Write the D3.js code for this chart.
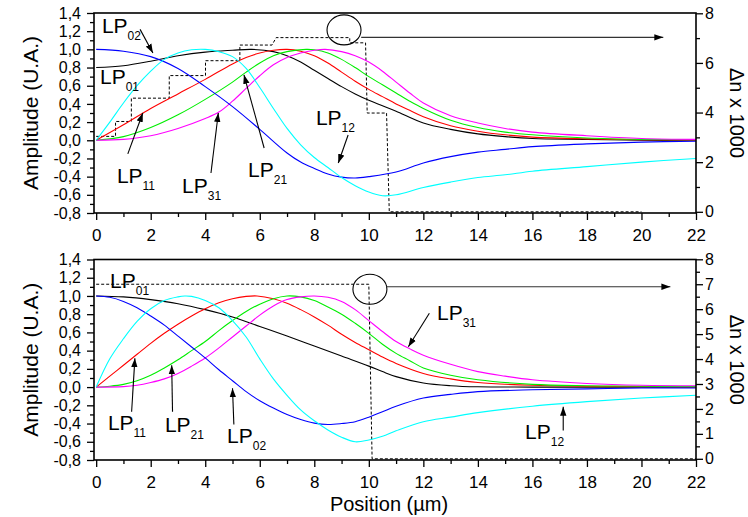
<!DOCTYPE html>
<html><head><meta charset="utf-8">
<script src="https://cdn.jsdelivr.net/npm/d3@7"></script>
<style>body{margin:0;background:#fff}svg{display:block}text{font-family:"Liberation Sans",Arial,Helvetica,sans-serif;fill:#000}</style>
</head><body><svg id="c" width="748" height="517"></svg>
<script>
// ---------- tick values ----------
const xTicks = [0,2,4,6,8,10,12,14,16,18,20,22];
const xMinor = [1,3,5,7,9,11,13,15,17,19,21];
const ampTicks = [-0.8,-0.6,-0.4,-0.2,0,0.2,0.4,0.6,0.8,1.0,1.2,1.4];
const ampMinor = [-0.7,-0.5,-0.3,-0.1,0.1,0.3,0.5,0.7,0.9,1.1,1.3];
const dnTicksTop = [0,2,4,6,8];
const dnMinorTop = [1,3,5,7];
const dnTicksBottom = [0,1,2,3,4,5,6,7,8];
const dnMinorBottom = [0.5,1.5,2.5,3.5,4.5,5.5,6.5,7.5];

// ---------- top panel data ----------
const top_LP01 = [[0,0.80],[1,0.82],[2,0.87],[3,0.93],[4,0.97],[5,0.99],[5.7,1.0],[6.5,0.975],[7,0.93],[7.5,0.86],[8,0.77],[8.5,0.68],[9,0.59],[9.5,0.51],[10,0.44],[10.5,0.38],[11,0.32],[12,0.19],[13,0.12],[14,0.07],[15,0.04],[16,0.02],[18,0.01],[20,0.0],[22,0.0]];
const top_LP02 = [[0,1.0],[1,0.98],[2,0.92],[3,0.79],[4,0.59],[5,0.37],[6,0.12],[7,-0.14],[7.5,-0.24],[8,-0.31],[8.5,-0.37],[9,-0.405],[9.5,-0.415],[10,-0.40],[11,-0.35],[12,-0.25],[13,-0.18],[14,-0.13],[15,-0.10],[16,-0.07],[18,-0.04],[20,-0.02],[22,-0.01]];
const top_LP12 = [[0,0],[0.5,0.2],[1,0.41],[1.5,0.6],[2,0.76],[2.5,0.89],[3,0.96],[3.5,0.995],[4,1.0],[4.5,0.975],[5,0.92],[5.5,0.79],[6,0.58],[6.5,0.35],[7,0.13],[7.5,-0.05],[8,-0.19],[8.5,-0.30],[9,-0.41],[9.5,-0.50],[10,-0.57],[10.5,-0.61],[11,-0.60],[12,-0.52],[13,-0.46],[14,-0.41],[15,-0.38],[16,-0.34],[18,-0.29],[20,-0.24],[22,-0.20]];
const top_LP11 = [[0,0],[1,0.17],[2,0.35],[3,0.51],[4,0.67],[5,0.84],[5.5,0.91],[6,0.96],[6.5,0.99],[7,1.0],[7.5,0.98],[8,0.93],[8.5,0.85],[9,0.75],[9.5,0.65],[10,0.56],[10.5,0.48],[11,0.40],[11.5,0.33],[12,0.26],[13,0.16],[14,0.10],[15,0.06],[16,0.035],[18,0.015],[20,0.005],[22,0]];
const top_LP21 = [[0,0],[1,0.04],[2,0.14],[3,0.28],[4,0.45],[5,0.64],[5.5,0.75],[6,0.85],[6.5,0.93],[7,0.975],[7.7,1.0],[8,0.995],[8.5,0.96],[9,0.89],[9.5,0.80],[10,0.70],[10.5,0.61],[11,0.52],[11.5,0.43],[12,0.35],[13,0.22],[14,0.14],[15,0.09],[16,0.06],[18,0.025],[20,0.01],[22,0.005]];
const top_LP31 = [[0,0],[1,0.01],[2,0.05],[3,0.13],[4,0.24],[4.5,0.31],[5,0.43],[5.5,0.57],[6,0.71],[6.5,0.83],[7,0.91],[7.5,0.96],[8,0.99],[8.4,1.0],[9,0.975],[9.5,0.93],[10,0.86],[10.5,0.76],[11,0.64],[11.5,0.52],[12,0.41],[13,0.27],[14,0.19],[15,0.13],[16,0.09],[18,0.05],[20,0.02],[22,0.01]];
const top_dn = [[0,3.04],[0.71,3.04],[0.71,3.64],[1.29,3.64],[1.29,4.58],[2.68,4.58],[2.68,5.49],[4.01,5.49],[4.01,6.09],[5.27,6.09],[5.27,6.72],[6.45,6.72],[6.6,7.02],[9.3,7.02],[9.3,6.81],[9.88,6.81],[9.94,3.98],[10.65,3.98],[10.75,0],[20,0]];

// ---------- bottom panel data ----------
const bot_LP01 = [[0,1.0],[1,0.99],[2,0.96],[3,0.915],[4,0.85],[5,0.77],[6,0.665],[7,0.56],[8,0.45],[9,0.34],[10,0.23],[10.5,0.17],[11,0.115],[12,0.045],[13,0.015],[14,0.003],[16,0],[22,0]];
const bot_LP02 = [[0,1.0],[0.5,0.985],[1,0.94],[1.5,0.87],[2,0.78],[2.5,0.68],[3,0.56],[3.5,0.44],[4,0.32],[4.5,0.19],[5,0.07],[5.5,-0.05],[6,-0.15],[6.5,-0.23],[7,-0.30],[7.5,-0.355],[8,-0.395],[8.5,-0.41],[9,-0.40],[9.5,-0.38],[10,-0.33],[10.5,-0.27],[11,-0.21],[12,-0.12],[13,-0.08],[14,-0.05],[16,-0.03],[18,-0.02],[20,-0.01],[22,-0.01]];
const bot_LP12 = [[0,0],[0.5,0.31],[1,0.53],[1.5,0.72],[2,0.86],[2.5,0.95],[3,0.99],[3.25,1.0],[3.5,0.995],[4,0.95],[4.5,0.87],[5,0.73],[5.5,0.55],[6,0.31],[6.5,0.09],[7,-0.09],[7.5,-0.25],[8,-0.37],[8.5,-0.47],[9,-0.55],[9.5,-0.60],[10,-0.58],[10.5,-0.54],[11,-0.48],[12,-0.38],[13,-0.33],[14,-0.28],[16,-0.21],[18,-0.16],[20,-0.12],[22,-0.09]];
const bot_LP11 = [[0,0],[0.5,0.12],[1,0.24],[1.5,0.36],[2,0.48],[2.5,0.59],[3,0.69],[3.5,0.78],[4,0.86],[4.5,0.925],[5,0.97],[5.5,0.995],[5.9,1.0],[6.5,0.97],[7,0.92],[7.5,0.85],[8,0.77],[8.5,0.68],[9,0.58],[9.5,0.49],[10,0.41],[10.5,0.33],[11,0.26],[12,0.15],[13,0.09],[14,0.05],[16,0.02],[18,0.01],[20,0.005],[22,0]];
const bot_LP21 = [[0,0],[0.5,0.01],[1,0.03],[1.5,0.07],[2,0.13],[2.5,0.21],[3,0.30],[3.5,0.40],[4,0.50],[4.5,0.62],[5,0.73],[5.5,0.83],[6,0.91],[6.5,0.97],[7,1.0],[7.5,0.99],[8,0.95],[8.5,0.88],[9,0.80],[9.5,0.70],[10,0.59],[10.5,0.47],[11,0.37],[11.5,0.29],[12,0.21],[13,0.13],[14,0.08],[16,0.03],[18,0.015],[20,0.01],[22,0.005]];
const bot_LP31 = [[0,0],[1,0.005],[1.5,0.02],[2,0.05],[2.5,0.09],[3,0.15],[3.5,0.23],[4,0.32],[4.5,0.43],[5,0.55],[5.5,0.67],[6,0.79],[6.5,0.89],[7,0.96],[7.5,0.99],[8,1.0],[8.5,0.985],[9,0.94],[9.5,0.85],[10,0.73],[10.5,0.61],[11,0.50],[11.5,0.42],[12,0.35],[13,0.25],[14,0.17],[15,0.12],[16,0.08],[18,0.04],[20,0.02],[22,0.015]];
const bot_dn = [[0,7],[10.0,7],[10.12,0],[22,0]];

// ---------- annotations (data units) ----------
const top_labels = [
  {t:"LP",s:"02",x:0.21,y:1.18,ax:[1.61,1.22],at:[2.08,0.96]},
  {t:"LP",s:"01",x:0.14,y:0.62},
  {t:"LP",s:"11",x:0.76,y:-0.47,ax:[1.16,-0.15],at:[1.71,0.30]},
  {t:"LP",s:"31",x:3.15,y:-0.58,ax:[4.21,-0.36],at:[4.48,0.30]},
  {t:"LP",s:"21",x:5.57,y:-0.40,ax:[6.16,-0.085],at:[5.42,0.72]},
  {t:"LP",s:"12",x:8.06,y:0.17,ax:[9.24,0.058],at:[8.88,-0.25]}
];
const bot_labels = [
  {t:"LP",s:"01",x:0.51,y:1.087},
  {t:"LP",s:"11",x:0.43,y:-0.47,ax:[1.30,-0.27],at:[1.42,0.316]},
  {t:"LP",s:"21",x:2.52,y:-0.49,ax:[2.80,-0.27],at:[2.77,0.24]},
  {t:"LP",s:"02",x:4.80,y:-0.61,ax:[5.05,-0.41],at:[5.0,-0.013]},
  {t:"LP",s:"31",x:12.5,y:0.736,ax:[12.22,0.81],at:[11.45,0.443]},
  {t:"LP",s:"12",x:15.73,y:-0.565,ax:[17.13,-0.475],at:[17.13,-0.215]}
];
const top_marker = {cx:9.09, cy:7.33, x1:9.72, x2:20.8, y:7.03};
const bot_marker = {cx:10.04, cy:6.8, x1:10.64, x2:21.06, y:6.9};

// ---------- drawing ----------
const svg = d3.select("#c");
const defs = svg.append("defs");
defs.append("marker").attr("id","ah").attr("markerUnits","userSpaceOnUse")
  .attr("markerWidth",10).attr("markerHeight",7).attr("refX",9).attr("refY",3.5)
  .attr("orient","auto").append("path").attr("d","M0,0.3 L9,3.5 L0,6.7 Z").attr("fill","#000");

const X0 = 94, X1 = 696;
const x = d3.scaleLinear().domain([-0.08,22]).range([X0,X1]);
const fmt = d => d3.format(".1f")(d).replace(".",",").replace("−","-");
const colors = {LP01:"#000000",LP02:"#0000ff",LP11:"#ff0000",LP21:"#00ee00",LP31:"#ff00ff",LP12:"#00ffff"};

function panel(cfg, idx){
  const g = svg.append("g");
  const y = d3.scaleLinear().domain([-0.8,1.4]).range([cfg.bottom,cfg.top]);
  const yr = d3.scaleLinear().domain([0,8]).range([cfg.rb,cfg.rt]);
  const cid = "clip"+idx;
  defs.append("clipPath").attr("id",cid).append("rect")
    .attr("x",X0).attr("y",cfg.top).attr("width",X1-X0).attr("height",cfg.bottom-cfg.top);

  const gl = g.append("g").attr("transform",`translate(${X0},0)`)
    .call(d3.axisLeft(y).tickValues(ampTicks).tickFormat(fmt).tickSize(7).tickPadding(6).tickSizeOuter(0));
  gl.selectAll("text").attr("font-size",16);
  g.append("g").attr("transform",`translate(${X0},0)`)
    .call(d3.axisLeft(y).tickValues(ampMinor).tickFormat("").tickSize(4).tickSizeOuter(0));
  const gb = g.append("g").attr("transform",`translate(0,${cfg.bottom})`)
    .call(d3.axisBottom(x).tickValues(xTicks).tickFormat(d3.format("d")).tickSize(7).tickPadding(9).tickSizeOuter(0));
  gb.selectAll("text").attr("font-size",17);
  g.append("g").attr("transform",`translate(0,${cfg.bottom})`)
    .call(d3.axisBottom(x).tickValues(xMinor).tickFormat("").tickSize(4).tickSizeOuter(0));
  const gr = g.append("g").attr("transform",`translate(${X1},0)`)
    .call(d3.axisRight(yr).tickValues(cfg.dnTicks).tickFormat(d3.format("d")).tickSize(7).tickPadding(2).tickSizeOuter(0));
  gr.selectAll("text").attr("font-size",16);
  g.append("g").attr("transform",`translate(${X1},0)`)
    .call(d3.axisRight(yr).tickValues(cfg.dnMinor).tickFormat("").tickSize(4).tickSizeOuter(0));
  g.selectAll(".domain").remove();
  g.selectAll(".tick line").attr("stroke","#000").attr("stroke-width",1.3);
  g.selectAll(".tick text").attr("fill","#000").style("font-family",'"Liberation Sans",Arial,sans-serif');

  const plot = g.append("g").attr("clip-path",`url(#${cid})`);
  plot.append("path").datum(cfg.dn)
    .attr("d", d3.line().x(d=>x(d[0])).y(d=>yr(d[1])))
    .attr("fill","none").attr("stroke","#000").attr("stroke-width",1).attr("stroke-dasharray","3,2");
  const line = d3.line().x(d=>x(d[0])).y(d=>y(d[1])).curve(d3.curveCatmullRom.alpha(0.5));
  cfg.series.forEach(s=>{
    plot.append("path").datum(s.data).attr("d",line)
      .attr("fill","none").attr("stroke",colors[s.name]).attr("stroke-width",1.1);
  });
  const m = cfg.marker;
  g.append("ellipse").attr("cx",x(m.cx)).attr("cy",yr(m.cy)).attr("rx",17).attr("ry",15)
    .attr("fill","none").attr("stroke","#000").attr("stroke-width",1.1);
  g.append("line").attr("x1",x(m.x1)).attr("x2",x(m.x2)).attr("y1",yr(m.y)).attr("y2",yr(m.y))
    .attr("stroke","#333").attr("stroke-width",1.1).attr("marker-end","url(#ah)");
  g.append("rect").attr("x",X0).attr("y",cfg.top).attr("width",X1-X0).attr("height",cfg.bottom-cfg.top)
    .attr("fill","none").attr("stroke","#000").attr("stroke-width",1.6);
  cfg.labels.forEach(l=>{
    const t = g.append("text").attr("x",x(l.x)).attr("y",y(l.y)).attr("font-size",21);
    t.append("tspan").text(l.t);
    t.append("tspan").attr("dy",7).attr("font-size",12).text(l.s);
    if(l.ax){
      g.append("line").attr("x1",x(l.ax[0])).attr("y1",y(l.ax[1])).attr("x2",x(l.at[0])).attr("y2",y(l.at[1]))
        .attr("stroke","#000").attr("stroke-width",1.1).attr("marker-end","url(#ah)");
    }
  });
  g.append("text").attr("transform",`translate(37.5,${(cfg.top+cfg.bottom)/2}) rotate(-90)`)
    .attr("text-anchor","middle").attr("font-size",21).text("Amplitude (U.A.)");
  g.append("text").attr("transform",`translate(730,${(cfg.top+cfg.bottom)/2}) rotate(90)`)
    .attr("text-anchor","middle").attr("font-size",20).text("Δn x 1000");
}

panel({top:13,bottom:213,rt:13.3,rb:211.8,dnTicks:dnTicksTop,dnMinor:dnMinorTop,dn:top_dn,marker:top_marker,labels:top_labels,
  series:[{name:"LP01",data:top_LP01},{name:"LP11",data:top_LP11},{name:"LP21",data:top_LP21},{name:"LP31",data:top_LP31},{name:"LP02",data:top_LP02},{name:"LP12",data:top_LP12}]},0);
panel({top:259.5,bottom:460,rt:259.3,rb:458.8,dnTicks:dnTicksBottom,dnMinor:dnMinorBottom,dn:bot_dn,marker:bot_marker,labels:bot_labels,
  series:[{name:"LP01",data:bot_LP01},{name:"LP11",data:bot_LP11},{name:"LP21",data:bot_LP21},{name:"LP31",data:bot_LP31},{name:"LP02",data:bot_LP02},{name:"LP12",data:bot_LP12}]},1);

svg.append("text").attr("x",389).attr("y",511).attr("text-anchor","middle").attr("font-size",20).text("Position (µm)");
</script></body></html>
